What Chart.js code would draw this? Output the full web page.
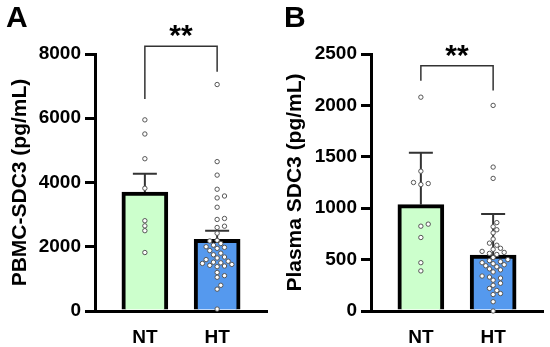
<!DOCTYPE html>
<html>
<head>
<meta charset="utf-8">
<script src="https://cdn.jsdelivr.net/npm/chart.js@4.4.0/dist/chart.umd.min.js"></script>
<style>
  html, body { margin: 0; padding: 0; background: #fff; }
  #wrap { position: relative; width: 550px; height: 347px; }
  .panel { position: absolute; top: 0; width: 275px; height: 347px; }
  .tag { position: absolute; top: 0; font: bold 30px 'Liberation Sans', Arial, sans-serif; color: #000; }
</style>
</head>
<body>
<div id="wrap">
  <div class="panel" style="left:0"><canvas id="chartA" width="275" height="347"></canvas></div>
  <div class="panel" style="left:275px"><canvas id="chartB" width="275" height="347"></canvas></div>
  <div class="tag" style="left:6px">A</div>
  <div class="tag" style="left:284px">B</div>
</div>
<script>
// groups on the x axis
const groups = ['NT', 'HT'];

// panel A - PBMC-SDC3 (pg/mL)
const pbmcMeans = [3700, 2230];
const pbmcErr = [575, 265];
const pbmcNT = [5950, 5510, 4740, 3820, 2810, 2650, 2500, 1820];
const pbmcHT = [7050, 4650, 4230, 3790, 3580, 3520, 3230, 2880, 2850, 2640, 2600, 2420,
  2200, 2180, 2100, 2050, 2000, 1980, 1950, 1880, 1800, 1750, 1680, 1650, 1600, 1550,
  1520, 1500, 1480, 1450, 1420, 1400, 1380, 1200, 1100, 1050, 800, 680, 60];
const pbmcTicks = [0, 2000, 4000, 6000, 8000];
const pbmcSig = [8240, 6600, 7450]; // bracket top, left leg end, right leg end

// panel B - Plasma SDC3 (pg/mL)
const plasmaMeans = [1035, 543];
const plasmaErr = [505, 400];
const plasmaNT = [2080, 1360, 1250, 1240, 1230, 845, 825, 715, 470, 390];
const plasmaHT = [2000, 1400, 1290, 860, 820, 790, 760, 700, 660, 640, 610, 600, 580,
  570, 560, 550, 520, 500, 490, 480, 470, 460, 450, 440, 430, 410, 400, 380, 340, 330,
  320, 300, 270, 250, 220, 200, 170, 160, 90, 0];
const plasmaTicks = [0, 500, 1000, 1500, 2000, 2500];
const plasmaSig = [2385, 2240, 2145];

const FONT = "'Liberation Sans', Arial, sans-serif";
Chart.defaults.font.family = FONT;
Chart.defaults.color = '#000';

// error bars (upper half only), drawn under the dots
const errorBars = {
  id: 'errorBars',
  beforeDatasetsDraw(chart, args, o) {
    const { ctx, scales: { x, y } } = chart;
    ctx.save();
    ctx.strokeStyle = '#333';
    ctx.lineWidth = 2;
    o.means.forEach((m, i) => {
      const px = x.getPixelForValue(i);
      const y0 = y.getPixelForValue(m);
      const y1 = y.getPixelForValue(m + o.errs[i]);
      ctx.beginPath();
      ctx.moveTo(px, y0); ctx.lineTo(px, y1);
      ctx.moveTo(px - 12, y1); ctx.lineTo(px + 12, y1);
      ctx.stroke();
    });
    ctx.restore();
  }
};

// significance bracket with stars
const sigBracket = {
  id: 'sigBracket',
  afterDraw(chart, args, o) {
    const { ctx, scales: { x, y } } = chart;
    const x0 = x.getPixelForValue(0), x1 = x.getPixelForValue(1);
    const top = y.getPixelForValue(o.levels[0]);
    ctx.save();
    ctx.strokeStyle = '#333';
    ctx.lineWidth = 1.5;
    ctx.beginPath();
    ctx.moveTo(x0, y.getPixelForValue(o.levels[1]));
    ctx.lineTo(x0, top);
    ctx.lineTo(x1, top);
    ctx.lineTo(x1, y.getPixelForValue(o.levels[2]));
    ctx.stroke();
    ctx.fillStyle = '#000';
    ctx.font = 'bold 30px ' + FONT;
    ctx.textAlign = 'center';
    ctx.textBaseline = 'alphabetic';
    ctx.fillText(o.text, (x0 + x1) / 2, top - 1);
    ctx.restore();
  }
};

// spread the dots sideways so they do not overlap (simple beeswarm)
const swarm = {
  id: 'swarm',
  afterDatasetUpdate(chart, args) {
    const meta = args.meta;
    if (meta.type !== 'scatter') return;
    const d = 4.6;
    const placed = [];
    const pts = meta.data.slice().sort((a, b) => b.y - a.y);
    pts.forEach(el => {
      const cx = el.x;
      for (let k = 0; k < 60; k++) {
        const off = k === 0 ? 0 : (k % 2 ? 1 : -1) * Math.ceil(k / 2) * d * 0.8;
        const nx = cx + off;
        if (placed.every(p => (p.x - nx) ** 2 + (p.y - el.y) ** 2 >= d * d)) {
          el.x = nx;
          placed.push({ x: nx, y: el.y });
          break;
        }
      }
    });
  }
};

function dots(values, idx) {
  return {
    type: 'scatter',
    data: values.map(v => ({ x: idx, y: v })),
    pointRadius: 2.2,
    pointBorderWidth: 1,
    pointBorderColor: '#555',
    pointBackgroundColor: '#fff',
    clip: false,
    order: 1
  };
}

function makeChart(id, cfg) {
  return new Chart(document.getElementById(id), {
    type: 'bar',
    data: {
      datasets: [
        dots(cfg.nt, 0),
        dots(cfg.ht, 1),
        {
          type: 'bar',
          data: cfg.means.map((m, i) => ({ x: i, y: m })),
          backgroundColor: ['#ccffcc', '#5599ee'],
          borderColor: '#000',
          borderWidth: 4,
          barThickness: 46,
          order: 2
        }
      ]
    },
    options: {
      responsive: false,
      animation: false,
      layout: { padding: { left: 0, right: cfg.padRight, top: 54, bottom: 0 } },
      plugins: {
        legend: { display: false },
        tooltip: { enabled: false },
        errorBars: { means: cfg.means, errs: cfg.errs },
        sigBracket: { levels: cfg.sig, text: '**' }
      },
      scales: {
        x: {
          type: 'linear',
          offset: false,
          bounds: 'data',
          min: -0.69,
          max: 1.69,
          afterBuildTicks: s => { s.ticks = [{ value: 0 }, { value: 1 }]; },
          afterFit: s => { s.height = 36; },
          ticks: {
            callback: v => groups[v],
            font: { size: 19, weight: 'bold' },
            padding: 15,
            maxRotation: 0
          },
          grid: { display: false, drawTicks: false, offset: false },
          border: { color: '#000', width: 3 }
        },
        y: {
          min: 0,
          max: cfg.ticks[cfg.ticks.length - 1],
          afterBuildTicks: s => { s.ticks = cfg.ticks.map(v => ({ value: v })); },
          afterFit: s => { s.width = cfg.axisX; },
          ticks: { font: { size: 19, weight: 'bold' }, padding: 4, callback: v => String(v) },
          grid: { drawOnChartArea: false, drawTicks: true, tickLength: 10, lineWidth: 3, color: '#000' },
          border: { color: '#000', width: 3 },
          title: {
            display: true,
            text: cfg.title,
            font: { size: 21, weight: 'bold' },
            padding: { top: 8, bottom: 0 }
          }
        }
      }
    },
    plugins: [errorBars, sigBracket, swarm]
  });
}

makeChart('chartA', {
  nt: pbmcNT, ht: pbmcHT, means: pbmcMeans, errs: pbmcErr, sig: pbmcSig,
  ticks: pbmcTicks, title: 'PBMC-SDC3 (pg/mL)', axisX: 95, padRight: 8
});
makeChart('chartB', {
  nt: plasmaNT, ht: plasmaHT, means: plasmaMeans, errs: plasmaErr, sig: plasmaSig,
  ticks: plasmaTicks, title: 'Plasma SDC3 (pg/mL)', axisX: 96, padRight: 7
});
</script>
</body>
</html>
